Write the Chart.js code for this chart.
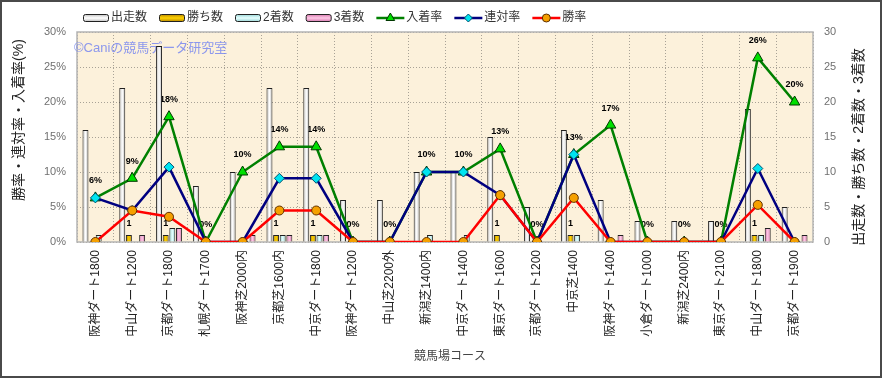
<!DOCTYPE html>
<html><head><meta charset="utf-8">
<script src="https://cdn.jsdelivr.net/npm/chart.js@4/dist/chart.umd.min.js"></script>
<style>html,body{margin:0;padding:0;background:#fff;}#wrap{width:882px;height:378px;position:relative;}</style>
</head><body><div id="wrap"><canvas id="c" width="882" height="378"></canvas></div>
<script>
const categories = ['阪神ダート1800','中山ダート1200','京都ダート1800','札幌ダート1700','阪神芝2000内','京都芝1600内','中京ダート1800','阪神ダート1200','中山芝2200外','新潟芝1400内','中京ダート1400','東京ダート1600','京都ダート1200','中京芝1400','阪神ダート1400','小倉ダート1000','新潟芝2400内','東京ダート2100','中山ダート1800','京都ダート1900'];
const starts  = [16,22,28,8,10,22,22,6,6,10,10,15,5,16,6,3,3,3,19,5];
const wins    = [0,1,1,0,0,1,1,0,0,0,0,1,0,1,0,0,0,0,1,0];
const seconds = [1,0,2,0,0,1,1,0,0,1,1,0,0,1,0,0,0,0,1,0];
const thirds  = [0,1,2,0,1,1,1,0,0,0,0,0,0,0,1,0,0,0,2,1];
const placeRate  = [6.3,9.1,17.9,0,10,13.6,13.6,0,0,10,10,13.3,0,12.5,16.7,0,0,0,26.3,20];
const rentaiRate = [6.3,4.5,10.7,0,0,9.1,9.1,0,0,10,10,6.7,0,12.5,0,0,0,0,10.5,0];
const winRate    = [0,4.5,3.6,0,0,4.5,4.5,0,0,0,0,6.7,0,6.3,0,0,0,0,5.3,0];
const rateTickLabels  = ['0%','5%','10%','15%','20%','25%','30%'];
const countTickLabels = ['0','5','10','15','20','25','30'];

const F = '"Liberation Sans", "Noto Sans CJK JP", sans-serif';
Chart.defaults.font.family = F;

function barGrad(edge, mid){
  return (ctx) => {
    const el = ctx.element;
    if (!el || !isFinite(el.x) || !isFinite(el.width)) return mid;
    const g = ctx.chart.ctx.createLinearGradient(el.x - el.width/2, 0, el.x + el.width/2, 0);
    g.addColorStop(0, edge); g.addColorStop(0.5, mid); g.addColorStop(1, edge);
    return g;
  };
}
const barStyles = [
  {edge:'#b8b8b8', mid:'#ffffff'},
  {edge:'#b08000', mid:'#ffd200'},
  {edge:'#90d0d0', mid:'#e6ffff'},
  {edge:'#d070a8', mid:'#ffc8e6'}
];

function mkBar(label, data, i){
  return {type:'bar', label, data, yAxisID:'y1', order:3,
    backgroundColor: barGrad(barStyles[i].edge, barStyles[i].mid),
    borderColor:'#202020', borderWidth:1, categoryPercentage:0.72, barPercentage:0.9,
    _edge: barStyles[i].edge, _mid: barStyles[i].mid};
}

const deco = {
  id:'deco',
  beforeDraw(chart){
    const {ctx, chartArea:a} = chart;
    ctx.save();
    ctx.fillStyle = '#fff'; ctx.fillRect(0,0,chart.width,chart.height);
    ctx.fillStyle = '#fcf1db'; ctx.fillRect(a.left,a.top,a.right-a.left,a.bottom-a.top);
    ctx.restore();
  },
  beforeDatasetsDraw(chart){
    const {ctx, chartArea:a} = chart;
    ctx.save();
    ctx.strokeStyle = '#b4b4b4'; ctx.lineWidth = 1.5;
    ctx.strokeRect(a.left, a.top, a.right-a.left, a.bottom-a.top);
    ctx.font = '13px ' + F; ctx.fillStyle = 'rgba(120,135,240,0.85)';
    ctx.textAlign = 'left'; ctx.textBaseline = 'middle';
    ctx.fillText('©Caniの競馬データ研究室', 74, 48);
    ctx.fillStyle = '#000'; ctx.textAlign = 'center';
    ctx.font = 'bold 9px ' + F;
    const mPlace = chart.getDatasetMeta(4);
    mPlace.data.forEach((pt, i) => {
      ctx.fillText(Math.round(placeRate[i]) + '%', pt.x, pt.y - 17);
    });
    const mWin = chart.getDatasetMeta(1);
    mWin.data.forEach((b, i) => {
      if (wins[i] > 0) ctx.fillText(String(wins[i]), b.x, b.y - 11);
    });
    ctx.restore();
  },
  afterDraw(chart){
    const ctx = chart.ctx;
    ctx.save();
    ctx.strokeStyle = '#4a4a4a'; ctx.lineWidth = 2;
    ctx.strokeRect(1, 1, chart.width-2, chart.height-2);
    let x = 83; const y = 18;
    ctx.font = '12px ' + F; ctx.textBaseline = 'middle'; ctx.textAlign = 'left';
    chart.data.datasets.forEach(ds => {
      if (ds.type === 'bar'){
        const g = ctx.createLinearGradient(0, y-4, 0, y+4);
        g.addColorStop(0, ds._edge); g.addColorStop(0.5, ds._mid); g.addColorStop(1, ds._edge);
        ctx.fillStyle = g; ctx.strokeStyle = '#202020'; ctx.lineWidth = 1;
        ctx.beginPath();
        if (ctx.roundRect) ctx.roundRect(x+0.5, y-3.5, 25, 7, 2); else ctx.rect(x+0.5, y-3.5, 25, 7);
        ctx.fill(); ctx.stroke();
        x += 28;
      } else {
        ctx.strokeStyle = ds.borderColor; ctx.lineWidth = 2.5;
        ctx.beginPath(); ctx.moveTo(x, y); ctx.lineTo(x+28, y); ctx.stroke();
        ctx.fillStyle = ds.pointBackgroundColor; ctx.strokeStyle = ds.pointBorderColor; ctx.lineWidth = 1;
        Chart.helpers.drawPoint(ctx, {pointStyle: ds.pointStyle, radius: ds.pointStyle==='triangle'?5:4, borderWidth:1, rotation:0}, x+14, y);
        x += 30;
      }
      ctx.fillStyle = '#333';
      ctx.fillText(ds.label, x, y);
      x += ctx.measureText(ds.label).width + 12;
    });
    ctx.fillStyle = '#222'; ctx.font = '14px ' + F; ctx.textAlign = 'center'; ctx.textBaseline = 'middle';
    ctx.save(); ctx.translate(19, 120); ctx.rotate(-Math.PI/2);
    ctx.fillText('勝率・連対率・入着率(%)', 0, 0); ctx.restore();
    ctx.save(); ctx.translate(859, 147); ctx.rotate(-Math.PI/2);
    ctx.fillText('出走数・勝ち数・2着数・3着数', 0, 0); ctx.restore();
    ctx.fillStyle = '#444'; ctx.font = '12px ' + F;
    ctx.fillText('競馬場コース', 450, 357);
    ctx.restore();
  }
};

const chart = new Chart(document.getElementById('c'), {
  data: {
    labels: categories,
    datasets: [
      mkBar('出走数', starts, 0),
      mkBar('勝ち数', wins, 1),
      mkBar('2着数', seconds, 2),
      mkBar('3着数', thirds, 3),
      {type:'line', label:'入着率', data:placeRate, yAxisID:'y', order:2, borderColor:'#008000', borderWidth:2.5,
        pointStyle:'triangle', pointRadius:6, pointBackgroundColor:'#00e000', pointBorderColor:'#003800', pointBorderWidth:1, tension:0},
      {type:'line', label:'連対率', data:rentaiRate, yAxisID:'y', order:1, borderColor:'#000080', borderWidth:2.5,
        pointStyle:'rectRot', pointRadius:5, pointBackgroundColor:'#00e4f0', pointBorderColor:'#005070', pointBorderWidth:1, tension:0},
      {type:'line', label:'勝率', data:winRate, yAxisID:'y', order:0, borderColor:'#ff0000', borderWidth:2.5,
        pointStyle:'circle', pointRadius:4.5, pointBackgroundColor:'#f5a000', pointBorderColor:'#603000', pointBorderWidth:1, tension:0}
    ]
  },
  options: {
    responsive:false, animation:false, devicePixelRatio:1,
    layout:{padding:{top:32, left:0, right:0, bottom:0}},
    plugins:{legend:{display:false}, tooltip:{enabled:false}},
    scales:{
      x:{
        type:'category', offset:true,
        grid:{offset:true, color:'#a8a296', lineWidth:1, drawTicks:false},
        border:{display:false, dash:[1,2]},
        ticks:{autoSkip:false, minRotation:90, maxRotation:90, padding:8, color:'#222', font:{size:12}},
        afterFit(s){ s.height = 136; }
      },
      y:{
        position:'left', min:0, max:30,
        grid:{color:'#a8a296', lineWidth:1, drawTicks:false},
        border:{display:false, dash:[1,2]},
        ticks:{stepSize:5, padding:11, color:'#707070', font:{size:11}, callback:(v)=>rateTickLabels[Math.round(v/5)]},
        afterFit(s){ s.width = 77; }
      },
      y1:{
        position:'right', min:0, max:30,
        grid:{drawOnChartArea:false, drawTicks:false},
        border:{display:false},
        ticks:{stepSize:5, padding:11, color:'#707070', font:{size:11}, callback:(v)=>countTickLabels[Math.round(v/5)]},
        afterFit(s){ s.width = 69; }
      }
    }
  },
  plugins:[deco]
});
chart.update('none');
</script></body></html>
